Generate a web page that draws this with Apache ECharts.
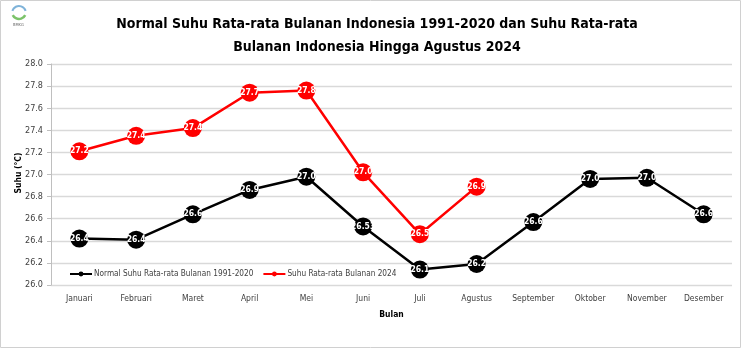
<!DOCTYPE html>
<html><head><meta charset="utf-8">
<script src="https://cdn.jsdelivr.net/npm/echarts@6/dist/echarts.min.js"></script>
<style>html,body{margin:0;padding:0;background:#fff}#c{width:744px;height:351px}</style>
</head><body><div id="c"></div>
<script>
const months = ['Januari','Februari','Maret','April','Mei','Juni','Juli','Agustus','September','Oktober','November','Desember'];
const normalValues = [26.42, 26.41, 26.64, 26.86, 26.98, 26.53, 26.14, 26.19, 26.57, 26.96, 26.97, 26.64];
const normalLabels = ['26.4','26.4','26.6','26.9','27.0','26.53','26.1','26.2','26.6','27.0','27.0','26.6'];
const values2024 = [27.21, 27.35, 27.42, 27.74, 27.76, 27.02, 26.46, 26.89];
const labels2024 = ['27.2','27.4','27.4','27.7','27.8','27.0','26.5','26.9'];
const yTicks = {min: 26.0, max: 28.0, interval: 0.2};
const seriesNames = ['Normal Suhu Rata-rata Bulanan 1991-2020', 'Suhu Rata-rata Bulanan 2024'];
const yAxisName = 'Suhu (°C)';

const F = "'DejaVu Sans Condensed', 'Liberation Sans', sans-serif";
const chart = echarts.init(document.getElementById('c'), null, {renderer: 'canvas'});
function lbl(arr){ return p => arr[p.dataIndex]; }
chart.setOption({
  animation: false,
  title: {
    text: 'Normal Suhu Rata-rata Bulanan Indonesia 1991-2020 dan Suhu Rata-rata\nBulanan Indonesia Hingga Agustus 2024',
    left: 372, top: 8, textAlign: 'center',
    textStyle: {fontFamily: F, fontSize: 14, fontWeight: 'bold', color: '#000', lineHeight: 23}
  },
  graphic: [
    {type: 'rect', shape: {x: 0.5, y: 0.5, width: 740, height: 347}, style: {fill: 'none', stroke: '#d0d0d0', lineWidth: 1}},
    {type: 'arc', shape: {cx: 19, cy: 13, r: 7, startAngle: Math.PI*1.1, endAngle: Math.PI*1.9}, style: {stroke: '#7fb3d9', lineWidth: 2, fill: 'none'}},
    {type: 'arc', shape: {cx: 19, cy: 12, r: 7, startAngle: Math.PI*0.15, endAngle: Math.PI*0.85}, style: {stroke: '#7cc36a', lineWidth: 2.5, fill: 'none'}},
    {type: 'text', left: 13, top: 23, style: {text: 'BMKG', fontSize: 4, fill: '#666', fontFamily: F}},
    {type: 'text', x: 19, y: 173, rotation: Math.PI / 2,
     style: {text: yAxisName, fontFamily: F, fontSize: 8.5, fontWeight: 'bold', fill: '#000', align: 'center', verticalAlign: 'middle'}}
  ],
  grid: {left: 51, right: 12, top: 64, bottom: 66, containLabel: false},
  legend: {
    orient: 'horizontal', left: 64, top: 265, itemGap: 9, itemWidth: 22, itemHeight: 6,
    textStyle: {fontFamily: F, fontSize: 8.2, color: '#404040', padding: [0, 0, 0, -3]},
    data: seriesNames
  },
  xAxis: {
    type: 'category', data: months, boundaryGap: true,
    name: 'Bulan', nameLocation: 'middle', nameGap: 25,
    nameTextStyle: {fontFamily: F, fontSize: 8.5, fontWeight: 'bold', color: '#000'},
    axisLine: {show: false}, axisTick: {show: false},
    axisLabel: {interval: 0, fontFamily: F, fontSize: 8.5, color: '#404040', margin: 9}
  },
  yAxis: {
    type: 'value', min: yTicks.min, max: yTicks.max, interval: yTicks.interval,
    axisLine: {show: true, lineStyle: {color: '#bfbfbf', width: 1}},
    axisTick: {show: true, length: 4, inside: false, lineStyle: {color: '#bfbfbf'}},
    axisLabel: {fontFamily: F, fontSize: 9, color: '#404040', margin: 8, formatter: v => v.toFixed(1)},
    splitLine: {lineStyle: {color: '#d9d9d9', width: 1.3}}
  },
  series: [
    {
      name: seriesNames[0], type: 'line', data: normalValues,
      symbol: 'circle', symbolSize: 18,
      itemStyle: {color: '#000'}, lineStyle: {color: '#000', width: 2.5},
      label: {show: true, position: 'inside', formatter: lbl(normalLabels), color: '#fff', fontFamily: F, fontWeight: 'bold', fontSize: 8.5}
    },
    {
      name: seriesNames[1], type: 'line', data: values2024,
      symbol: 'circle', symbolSize: 18,
      itemStyle: {color: '#ff0000'}, lineStyle: {color: '#ff0000', width: 2.5},
      label: {show: true, position: 'inside', formatter: lbl(labels2024), color: '#fff', fontFamily: F, fontWeight: 'bold', fontSize: 8.5}
    }
  ]
});
</script></body></html>
